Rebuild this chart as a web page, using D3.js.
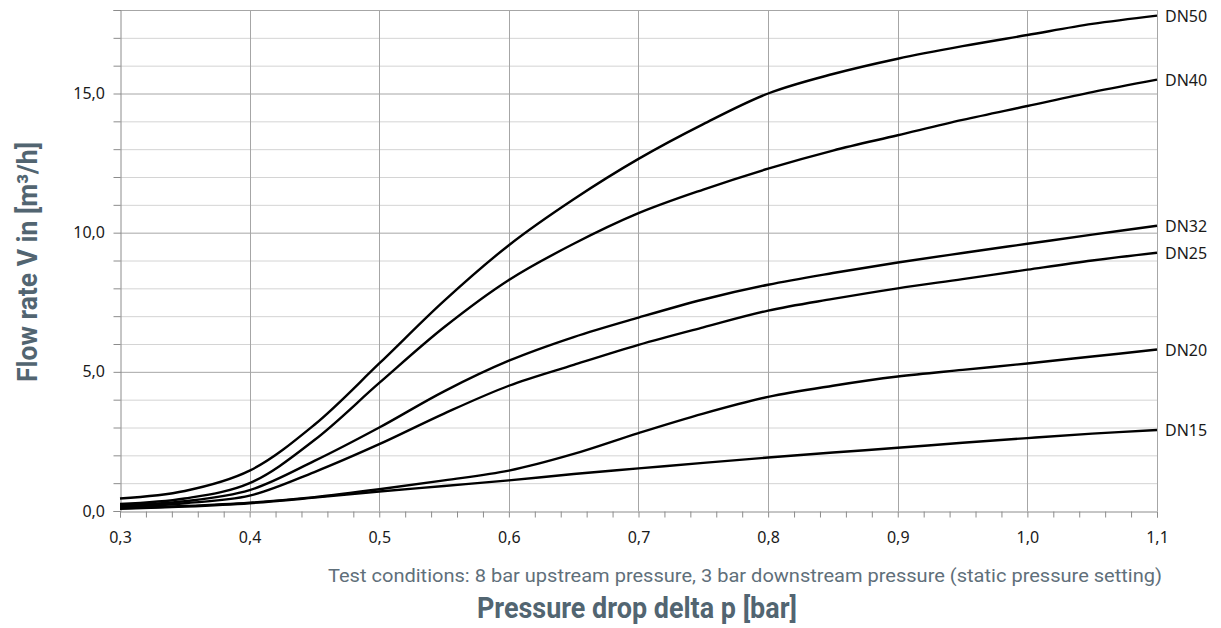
<!DOCTYPE html>
<html>
<head>
<meta charset="utf-8">
<script src="https://cdn.jsdelivr.net/npm/d3@7"></script>
<style>
  body { margin: 0; background: #fff; }
  svg { display: block; }
  .tick text { font-family: "Noto Sans", "Open Sans", sans-serif; font-size: 16px; fill: #1a1a1a; }
</style>
</head>
<body>
<svg id="canvas" width="1221" height="628"></svg>
<script>
// pressure drop points (bar)
const pressure = [0.3, 0.35, 0.4, 0.45, 0.5, 0.55, 0.6, 0.65, 0.7, 0.75, 0.8, 0.85, 0.9, 0.95, 1.0, 1.05, 1.1];

// flow rate per nominal size (m3/h)
const dn50 = [0.45, 0.72, 1.45, 3.1, 5.3, 7.55, 9.55, 11.2, 12.65, 13.9, 15.0, 15.7, 16.25, 16.7, 17.1, 17.5, 17.8];
const dn40 = [0.25, 0.45, 1.0, 2.55, 4.6, 6.6, 8.3, 9.6, 10.7, 11.55, 12.3, 12.95, 13.5, 14.05, 14.55, 15.05, 15.5];
const dn32 = [0.2, 0.35, 0.75, 1.8, 3.0, 4.3, 5.4, 6.25, 6.95, 7.6, 8.13, 8.55, 8.93, 9.27, 9.6, 9.93, 10.25];
const dn25 = [0.15, 0.28, 0.55, 1.4, 2.4, 3.5, 4.5, 5.25, 5.97, 6.6, 7.2, 7.62, 8.0, 8.33, 8.67, 9.0, 9.28];
const dn20 = [0.1, 0.18, 0.3, 0.5, 0.78, 1.1, 1.45, 2.05, 2.8, 3.5, 4.1, 4.5, 4.83, 5.07, 5.3, 5.55, 5.8];
const dn15 = [0.08, 0.16, 0.28, 0.48, 0.7, 0.9, 1.1, 1.33, 1.53, 1.73, 1.92, 2.1, 2.27, 2.45, 2.62, 2.78, 2.91];

const seriesNames = ["DN50", "DN40", "DN32", "DN25", "DN20", "DN15"];
const seriesValues = [dn50, dn40, dn32, dn25, dn20, dn15];

const xTicks = [0.3, 0.4, 0.5, 0.6, 0.7, 0.8, 0.9, 1.0, 1.1];
const yTicks = [0, 5, 10, 15];

const yTitle = "Flow rate V in [m³/h]";
const xTitle = "Pressure drop delta p [bar]";
const note = "Test conditions: 8 bar upstream pressure, 3 bar downstream pressure (static pressure setting)";

const svg = d3.select("#canvas");
const plotLeft = 120, plotRight = 1157, plotTop = 10, plotBottom = 511;

const x = d3.scaleLinear().domain([0.3, 1.1]).range([plotLeft, plotRight]);
const y = d3.scaleLinear().domain([0, 18]).range([plotBottom, plotTop]);
const fmt = (d) => d3.format(".1f")(d).replace(".", ",");

// horizontal grid, every 1 m3/h, darker every 5
svg.append("g")
  .selectAll("line")
  .data(d3.range(1, 19))
  .enter()
  .append("line")
  .attr("x1", plotLeft).attr("x2", plotRight)
  .attr("y1", (d) => y(d) + 0.5).attr("y2", (d) => y(d) + 0.5)
  .attr("stroke", (d) => (d % 5 === 0 || d === 18 ? "#a6a6a6" : "#d4d4d4"))
  .attr("stroke-width", 1);

// vertical grid
svg.append("g")
  .selectAll("line")
  .data(xTicks.slice(1))
  .enter()
  .append("line")
  .attr("x1", (d) => Math.round(x(d)) + 0.5).attr("x2", (d) => Math.round(x(d)) + 0.5)
  .attr("y1", plotTop).attr("y2", plotBottom)
  .attr("stroke", "#a6a6a6");

// x axis with minor ticks every 0.02
const xAxis = svg.append("g")
  .attr("transform", `translate(0,${plotBottom + 0.5})`)
  .call(d3.axisBottom(x).tickValues(d3.range(15, 56).map((i) => i / 50)).tickSize(6).tickFormat(""));
xAxis.select(".domain").attr("stroke", "#8c8c8c");
xAxis.selectAll(".tick line").attr("stroke", "#8c8c8c");

svg.append("g")
  .attr("transform", `translate(0,${plotBottom + 0.5})`)
  .call(d3.axisBottom(x).tickValues(xTicks).tickSize(0).tickPadding(20).tickFormat(fmt))
  .call((g) => g.select(".domain").remove());

// y axis with tick every 1
const yAxis = svg.append("g")
  .attr("transform", `translate(${plotLeft + 0.5},0)`)
  .call(d3.axisLeft(y).tickValues(d3.range(0, 19)).tickSize(7).tickFormat(""));
yAxis.select(".domain").attr("stroke", "#8c8c8c");
yAxis.selectAll(".tick line").attr("stroke", "#8c8c8c");

svg.append("g")
  .attr("transform", `translate(${plotLeft - 15},0)`)
  .call(d3.axisLeft(y).tickValues(yTicks).tickSize(0).tickPadding(0).tickFormat(fmt))
  .call((g) => g.select(".domain").remove());

// curves
const line = d3.line()
  .x((d, i) => x(pressure[i]))
  .y((d) => y(d))
  .curve(d3.curveCatmullRom.alpha(0.5));

svg.append("g")
  .selectAll("path")
  .data(seriesValues)
  .enter()
  .append("path")
  .attr("d", line)
  .attr("fill", "none")
  .attr("stroke", "#000")
  .attr("stroke-width", 2.4);

// series labels at right end
svg.append("g")
  .selectAll("text")
  .data(seriesNames)
  .enter()
  .append("text")
  .attr("x", plotRight + 8)
  .attr("y", (d, i) => y(seriesValues[i][seriesValues[i].length - 1]) + 6)
  .attr("font-family", "Noto Sans, Open Sans, sans-serif")
  .attr("font-size", 16)
  .attr("fill", "#1a1a1a")
  .text((d) => d);

// titles
svg.append("text")
  .attr("transform", "translate(37,262) rotate(-90)")
  .attr("text-anchor", "middle")
  .attr("font-family", "Roboto, sans-serif")
  .attr("font-weight", "bold")
  .attr("font-size", 28)
  .attr("textLength", 240)
  .attr("lengthAdjust", "spacingAndGlyphs")
  .attr("fill", "#526571")
  .text(yTitle);

svg.append("text")
  .attr("x", 637)
  .attr("y", 618)
  .attr("text-anchor", "middle")
  .attr("font-family", "Roboto, sans-serif")
  .attr("font-weight", "bold")
  .attr("font-size", 30)
  .attr("textLength", 320)
  .attr("lengthAdjust", "spacingAndGlyphs")
  .attr("fill", "#526571")
  .text(xTitle);

svg.append("text")
  .attr("x", 328)
  .attr("y", 582)
  .attr("font-family", "Roboto, sans-serif")
  .attr("font-size", 19)
  .attr("textLength", 834)
  .attr("lengthAdjust", "spacingAndGlyphs")
  .attr("fill", "#5f6f7a")
  .text(note);
</script>
</body>
</html>
